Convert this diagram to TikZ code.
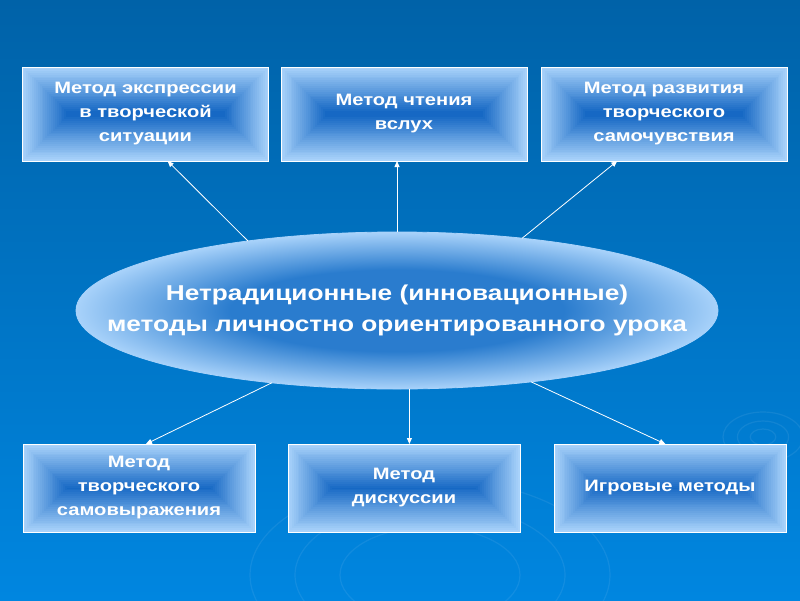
\documentclass[tikz,border=0pt]{standalone}
\usepackage{fontspec}
\setmainfont[FakeStretch=1.22]{Liberation Sans}
\usetikzlibrary{shapes.geometric,arrows.meta,calc}

\definecolor{bgtop}{RGB}{0,98,168}
\definecolor{bgbot}{RGB}{0,134,224}
\definecolor{boxlight}{RGB}{168,210,250}
\definecolor{boxdark}{RGB}{22,104,196}
\definecolor{ellin}{RGB}{42,124,206}
\definecolor{ellout}{RGB}{168,210,250}
\pgfdeclareradialshading{ellfill}{\pgfpoint{0bp}{0bp}}{color(0bp)=(ellin); color(13bp)=(ellin); color(25bp)=(ellout); color(50bp)=(ellout)}

\begin{document}
\begin{tikzpicture}[x=1pt,y=-1pt,
    mbox/.style={draw=white, line width=0.8pt, outer sep=0, inner sep=0,
        align=center, text=white, font=\fontsize{16.5}{24}\selectfont\bfseries,
        path picture={
            \foreach \i in {0,...,23}{
                \pgfmathsetmacro\p{100*\i/23}
                \fill[boxdark!\p!boxlight] ([shift={(\i*1.9pt,-\i*1.9pt)}]path picture bounding box.north west)
                    rectangle ([shift={(-\i*1.9pt,\i*1.9pt)}]path picture bounding box.south east);
            }}},
    topbox/.style={mbox, minimum width=246pt, minimum height=94pt},
    botbox/.style={mbox, minimum width=232pt, minimum height=88pt},
    arr/.style={draw=white, line width=0.8pt, -{Triangle[length=6pt,width=5pt]}}]

    % background
    \useasboundingbox (0,0) rectangle (800,600);
    \fill[top color=bgtop, bottom color=bgbot] (0,0) rectangle (800,600);
    \begin{scope}
        \clip (0,0) rectangle (800,600);
        \begin{scope}[white, opacity=0.07, line width=1.2pt]
            \foreach \r in {8,16,25} \draw (763,437) ellipse [x radius=\r*1.6, y radius=\r];
            \foreach \r in {60,90,120} \draw (430,575) ellipse [x radius=\r*1.5, y radius=\r*0.8];
        \end{scope}
    \end{scope}

    % methods
    \node[topbox] (ekspr) at (145.5,114) {Метод экспрессии\\в творческой\\ситуации};
    \node[topbox] (chtenie) at (404,114) {Метод чтения\\вслух};
    \node[topbox] (razvitie) at (664,114) {Метод развития\\творческого\\самочувствия};
    \node[botbox] (samovyr) at (139,488) {Метод\\творческого\\самовыражения};
    \node[botbox] (diskus) at (404,488) {Метод\\дискуссии};
    \node[botbox] (igrovye) at (670,488) {Игровые методы};

    % centre
    \node[ellipse, draw=ellout, line width=0.8pt, outer sep=0, inner sep=0,
        minimum width=642pt, minimum height=157pt, shading=ellfill] (metody) at (397,310.5) {};
    \node[align=center, text=white, font=\fontsize{21.5}{31}\selectfont\bfseries] (metodytxt) at (metody.center)
        {Нетрадиционные (инновационные)\\методы личностно ориентированного урока};

    % arrows
    \draw[arr] (metody.155) -- ($(ekspr.south west)!0.59!(ekspr.south east)$);
    \draw[arr] (metody.north) -- (metody.north |- chtenie.south);
    \draw[arr] (metody.30) -- ($(razvitie.south west)!0.31!(razvitie.south east)$);
    \draw[arr] (metody.210) -- ($(samovyr.north west)!0.53!(samovyr.north east)$);
    \draw[arr] (metody.279) -- (metody.279 |- diskus.north);
    \draw[arr] (metody.332) -- ($(igrovye.north west)!0.48!(igrovye.north east)$);
\end{tikzpicture}
\end{document}
